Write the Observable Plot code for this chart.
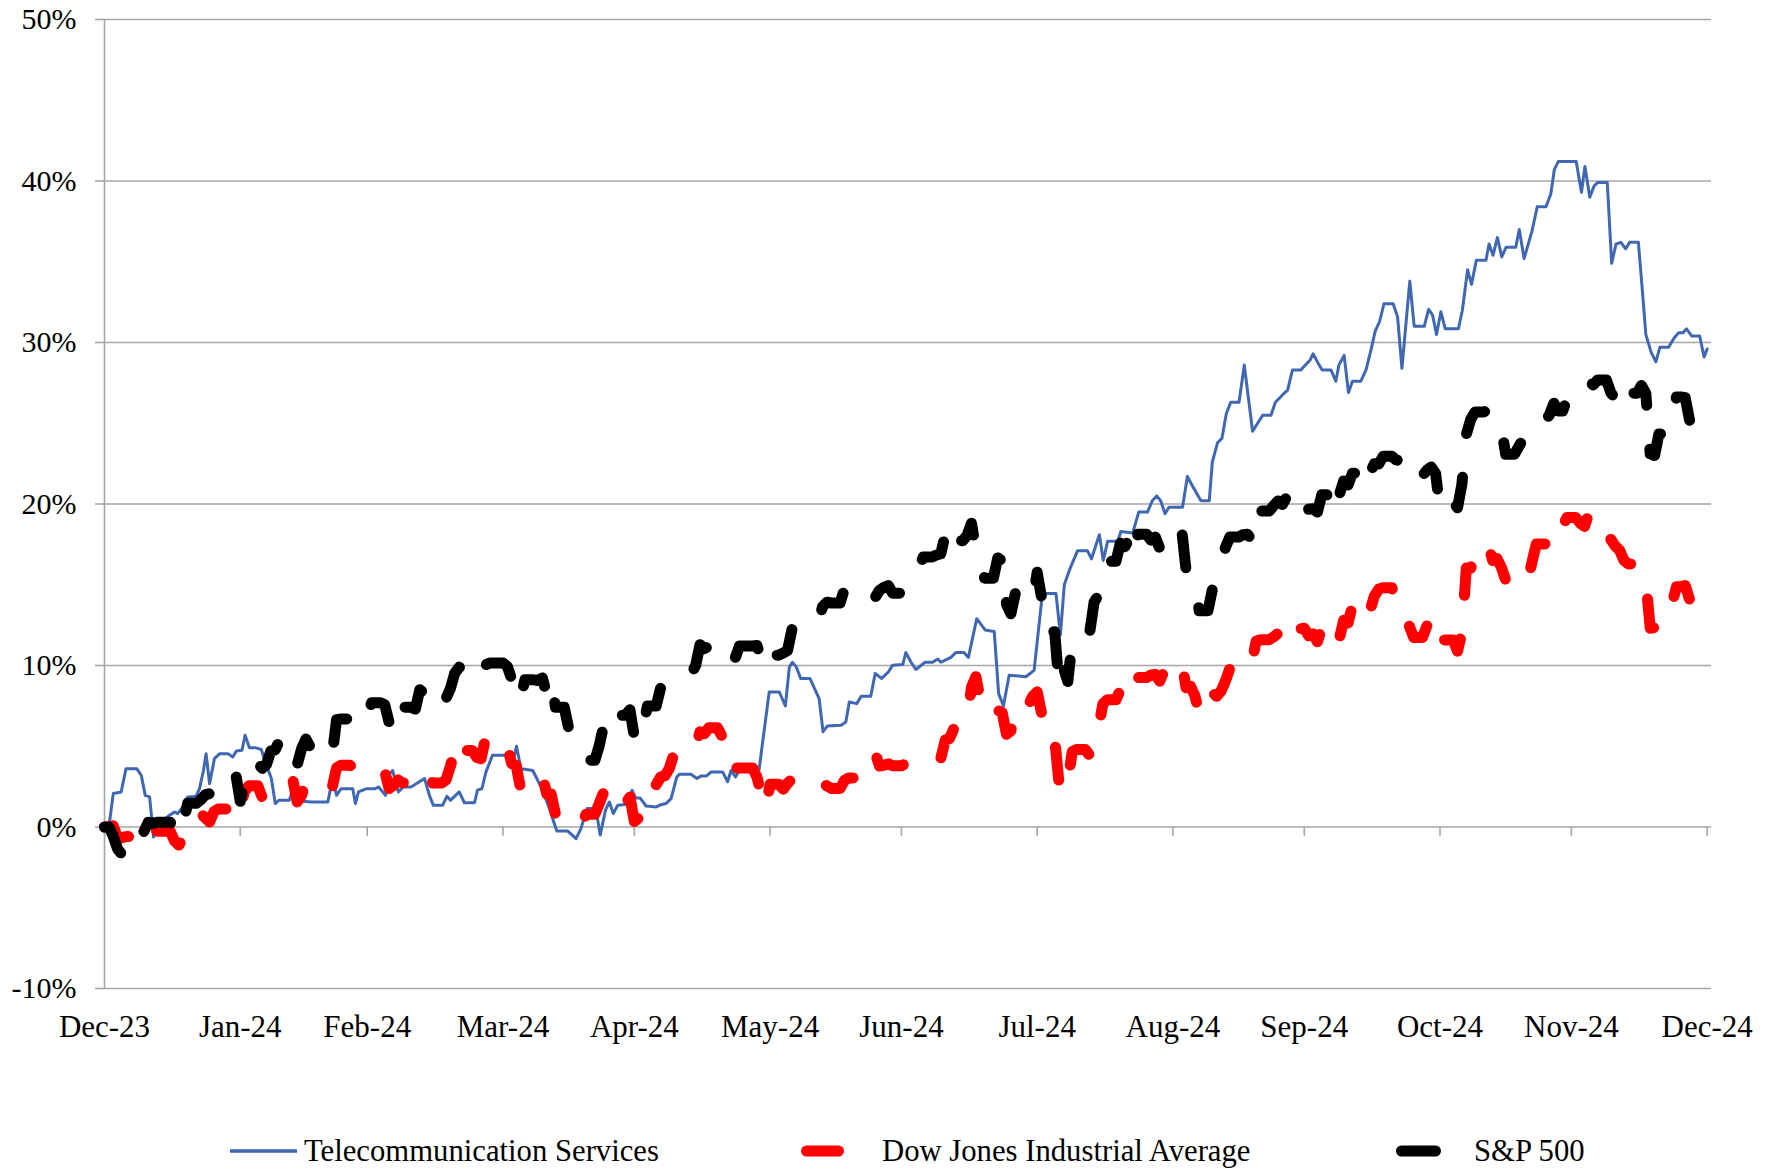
<!DOCTYPE html>
<html><head><meta charset="utf-8">
<script src="https://cdn.jsdelivr.net/npm/d3@7"></script>
<script src="https://cdn.jsdelivr.net/npm/@observablehq/plot@0.6"></script>
<style>
html,body{margin:0;padding:0;background:#fff;}
#wrap{position:relative;width:1777px;height:1169px;font-family:"Liberation Serif","Times New Roman",serif;overflow:hidden;}
#chart{position:absolute;left:0;top:0;}
.leg{position:absolute;top:1131px;font-size:30.7px;line-height:40px;color:#000;white-space:nowrap;}
.sw{position:absolute;top:1131px;}
</style></head><body><div id="wrap"><div id="chart"></div></div>
<script>
// ---------------- data ----------------
const startDate = "2023-12-31";   // day 0 of the daily series
const tickDates = ["2023-12-31","2024-01-31","2024-02-29","2024-03-31","2024-04-30","2024-05-31","2024-06-30","2024-07-31","2024-08-31","2024-09-30","2024-10-31","2024-11-30","2024-12-31"];
const tickLabels = ["Dec-23","Jan-24","Feb-24","Mar-24","Apr-24","May-24","Jun-24","Jul-24","Aug-24","Sep-24","Oct-24","Nov-24","Dec-24"];
const yTicks = [-10, 0, 10, 20, 30, 40, 50];
const seriesNames = ["Telecommunication Services", "Dow Jones Industrial Average", "S&P 500"];
const seriesColors = ["#4068b2", "#ff0000", "#000000"];

// cumulative % change, one value per calendar day from 2023-12-31
const sp500Daily = [0,
0,-0.57,-1.36,-1.70,-1.52,-1.52,-1.52,-0.13,-0.28,0.29,0.22,0.29,0.29,0.29,0.29,-0.08,-0.64,0.23,1.47,1.47,1.47,1.69,1.99,2.07,2.61,2.54,2.54,2.54,3.32,3.25,1.59,
2.86,3.96,3.96,3.96,3.63,3.87,4.72,4.78,5.38,5.38,5.38,5.28,3.84,4.84,5.45,4.94,4.94,4.94,4.94,4.31,4.44,6.65,6.69,6.69,6.69,6.28,6.47,6.29,6.84,
7.70,7.70,7.70,7.57,6.47,7.02,8.12,7.42,7.42,7.42,7.30,8.50,8.29,7.98,7.28,7.28,7.28,7.96,8.57,9.53,9.89,9.74,9.74,9.74,9.40,9.09,10.03,10.16,10.16,10.16,10.16,
9.94,9.14,9.26,7.91,9.11,9.11,9.11,9.07,9.23,8.19,9.00,7.41,7.41,7.41,6.12,5.90,5.29,5.06,4.14,4.14,4.14,5.05,6.30,6.33,5.84,6.92,6.92,6.92,7.26,5.57,
5.21,6.17,7.50,7.50,7.50,8.61,8.76,8.76,9.31,9.49,9.49,9.49,9.47,10.00,11.29,11.05,11.18,11.18,11.18,11.29,11.56,11.26,10.44,11.21,11.21,11.21,11.21,11.24,10.42,9.76,10.64,
10.64,10.64,10.77,10.93,12.25,12.22,12.10,12.10,12.10,12.39,12.69,13.65,13.92,13.87,13.87,13.87,14.75,15.04,15.04,14.75,14.57,14.57,14.57,14.22,14.66,14.84,14.95,14.48,14.48,14.48,
14.79,15.50,16.09,16.09,16.72,16.72,16.72,16.84,16.92,18.12,17.08,17.73,17.73,17.73,18.06,18.81,17.16,16.24,15.41,15.41,15.41,16.66,16.48,13.78,13.20,14.45,14.45,14.45,14.54,13.98,15.78,
14.19,12.09,12.09,12.09,8.73,9.86,9.01,11.52,12.04,12.04,12.04,12.05,13.93,14.37,16.21,16.45,16.45,16.45,17.58,17.35,17.84,16.79,18.13,18.13,18.13,17.76,17.95,17.24,17.24,18.42,18.42,
18.42,18.42,15.92,15.73,15.38,13.39,13.39,13.39,14.70,15.21,16.44,17.31,17.95,17.95,17.95,18.10,18.13,17.79,19.79,19.56,19.56,19.56,19.89,20.19,19.97,20.45,20.30,20.30,20.30,20.81,
19.68,19.70,19.50,20.57,20.57,20.57,19.42,20.57,21.43,21.18,21.91,21.91,21.91,22.85,21.92,22.49,22.47,22.95,22.95,22.95,22.73,22.67,21.54,21.80,21.77,21.77,21.77,22.09,22.29,21.89,19.62,
20.11,20.11,20.11,19.77,21.23,24.30,25.23,25.70,25.70,25.70,25.82,25.45,25.48,24.73,23.08,23.08,23.08,23.56,24.05,24.05,24.72,25.15,25.15,25.15,25.53,26.24,25.76,25.76,26.47,26.47,
26.47,26.78,26.84,27.60,27.37,27.68,27.68,27.68,26.90,26.52,27.56,26.87,26.86,26.86,26.86,27.34,26.85,23.11,23.00,24.34,24.34,24.34,25.25,26.63,26.63,26.58,25.18,25.18,25.18,23.84,23.31];

const dowDaily = [0,
0,0.07,-0.69,-0.66,-0.59,-0.59,-0.59,-0.02,-0.44,0.02,0.06,-0.26,-0.26,-0.26,-0.26,-0.87,-1.12,-0.59,0.46,0.46,0.46,0.83,0.57,0.31,0.95,1.12,1.12,1.12,1.71,2.06,1.22,
2.20,2.56,2.56,2.56,1.83,2.21,2.62,2.75,2.61,2.61,2.61,2.94,1.55,1.95,2.88,2.49,2.49,2.49,2.49,2.32,2.45,3.66,3.83,3.83,3.83,3.66,3.40,3.34,3.47,
3.71,3.71,3.71,3.45,2.38,2.58,2.92,2.74,2.74,2.74,2.87,3.49,3.59,3.23,2.72,2.72,2.72,2.92,3.77,4.84,5.55,4.74,4.74,4.74,4.31,4.23,5.49,5.62,5.62,5.62,5.62,
4.98,3.93,3.82,2.41,3.22,3.22,3.22,3.19,3.17,2.05,2.04,0.78,0.78,0.78,0.12,0.29,0.17,0.23,0.79,0.79,0.79,1.46,2.16,2.05,1.05,1.46,1.46,1.46,1.85,0.34,
0.57,1.42,2.62,2.62,2.62,3.09,3.17,3.63,4.51,4.84,4.84,4.84,4.62,4.96,5.89,5.78,6.14,6.14,6.14,5.62,5.79,5.26,3.65,3.66,3.66,3.66,3.66,3.09,2.00,1.12,2.65,
2.65,2.65,2.34,2.71,2.97,3.18,2.95,2.95,2.95,3.13,2.81,2.71,2.54,2.39,2.39,2.39,2.89,3.04,3.04,3.83,3.88,3.88,3.88,4.57,3.78,3.82,3.91,3.79,3.79,3.79,
3.93,4.36,4.29,4.29,4.47,4.47,4.47,4.39,4.25,5.39,5.48,6.13,6.13,6.13,6.69,8.66,9.31,7.90,6.89,6.89,6.89,7.23,7.08,5.74,5.96,7.69,7.69,7.69,7.56,8.10,8.37,
7.05,5.43,5.43,5.43,2.69,3.47,2.85,4.66,4.80,4.80,4.80,4.42,5.51,6.15,7.62,7.88,7.88,7.88,8.51,8.34,8.49,8.02,9.25,9.25,9.25,9.42,9.45,9.03,9.67,10.28,10.28,
10.28,10.28,8.62,8.72,8.14,7.05,7.05,7.05,8.33,8.09,8.42,9.04,9.83,9.83,9.83,10.43,10.39,10.12,11.50,11.60,11.60,11.60,11.77,11.99,11.21,11.90,12.27,12.27,12.27,12.31,
11.85,11.96,11.47,12.37,12.37,12.37,11.32,11.65,12.80,12.64,13.73,13.73,13.73,14.26,13.40,14.30,14.72,14.82,14.82,14.82,13.91,13.89,12.80,12.43,11.74,11.74,11.74,12.46,12.06,11.81,10.81,
11.58,11.58,11.58,10.89,12.03,16.03,16.03,16.71,16.71,16.71,17.52,16.51,16.63,16.08,15.27,15.27,15.27,15.12,14.80,15.17,16.40,17.53,17.53,17.53,18.70,19.03,18.66,18.66,19.16,19.16,
19.16,18.82,18.61,19.43,18.78,18.45,18.45,18.45,17.81,17.40,17.14,16.52,16.29,16.29,16.29,15.99,15.28,12.30,12.35,13.67,13.67,13.67,13.84,14.88,14.88,14.95,14.07,14.07,14.07,12.96,12.88];

// telecom services: vertices (day offset from startDate, cumulative %)
const telecomDay = [0,1.1,2,3.8,4.9,7.4,8.4,9.3,10.3,11.2,12.4,14.8,16,16.7,17.9,19,20.9,21.7,22.6,23.2,24,25.1,26.3,28.2,29.3,30.1,31.4,32.1,33.1,34.6,35.8,36.9,38.1,39,39.8,42.2,43,43.8,44.5,45.5,47.2,51,52.1,53,54,56.7,57.3,58,59.9,61.8,62.6,64.2,65.1,65.8,67.1,68.2,70,71.2,73.1,74.2,75.1,77.2,78.2,79,81,82.2,84.5,85.2,86.2,87.1,88.6,93.6,94.1,95.1,97.8,99.7,101.2,103.3,105.8,107.7,108.8,110.2,112.2,113.2,114.4,115.3,116.2,117.2,119,120.5,121.3,122.3,123.7,126,127.1,128.2,129.4,130.7,131.3,133.9,135.3,136.2,137.5,138.5,141.2,142.3,143.1,144.1,145.1,149.5,151.8,154.1,155.5,156.4,157.1,158,159,161.1,163.2,164.1,165.1,168.2,169.3,170.1,171.8,172.8,175,176,177.5,179,180,182.3,183,184.2,185.3,187.4,189.1,190.3,191,193.3,194.4,196.3,197.3,199.2,201.1,203.2,204.2,205.3,206.6,210.4,212.3,214.2,217.3,218.3,219.2,220.5,222.2,224.5,225.4,227.2,228.1,229.1,231.4,232.1,234.8,236.2,238.2,239.3,240.3,241.2,242.2,243.1,246.2,247.3,248.5,250.4,252.3,253,254.2,255.2,256.2,257.2,259.1,260.3,262.2,264.5,266.4,267.4,269.2,270.2,271.3,273.2,275.3,276,277.4,278.1,280.1,281.2,281.9,283.1,284.1,285,286.9,288.1,289.2,290.2,291.2,292.2,294.3,295.3,296.3,298.1,299.1,301.4,302.4,303.3,304.2,305.2,306.2,309.2,310.1,311.3,312.2,313.3,315.5,316.2,317.1,318.1,319.1,320.1,322.3,323.1,324.2,326,327.2,329.2,330.3,331.1,332,336.1,337.3,338.1,339.2,340.2,341,343.2,344.2,345.2,346.3,347.4,348.3,350.3,351.1,352,353.2,354.3,355.2,357.2,358.5,359.5,360.5,361.3,362.5,364.3,365.3,366];
const telecomValue = [0,0.2,2.07,2.17,3.6,3.6,3.2,1.96,1.86,-0.62,0.2,0.72,0.93,0.83,1.24,1.86,1.9,2.38,3.5,4.54,2.68,4.23,4.54,4.54,4.34,4.7,4.75,5.68,4.9,4.9,4.8,3.9,3.0,1.45,1.65,1.65,2.27,1.7,2.07,1.6,1.55,1.55,3.0,1.96,2.37,2.37,1.45,2.17,2.37,2.37,2.48,1.96,3.3,3.5,2.17,2.48,2.48,2.68,3.0,1.96,1.34,1.34,1.9,1.65,2.17,1.5,1.5,2.3,2.37,3.4,4.44,4.44,5.0,3.6,3.5,2.48,1.45,-0.25,-0.25,-0.72,-0.1,1.14,1.14,-0.5,1.03,1.55,0.83,1.34,1.4,2.27,1.8,1.8,1.3,1.24,1.38,1.45,1.76,3.1,3.26,3.26,3.0,3.16,3.16,3.4,3.4,2.8,3.5,3.1,3.57,3.57,8.36,8.36,7.5,9.9,10.2,9.9,9.2,9.2,7.95,5.9,6.26,6.3,6.5,7.74,7.64,8.1,8.1,9.5,9.2,9.6,10.02,10.06,10.8,10.2,9.75,10.2,10.2,10.4,10.2,10.5,10.8,10.8,10.5,12.9,12.2,12.1,8.26,7.5,9.4,9.3,9.7,14.46,14.46,11.9,15.0,16.0,17.1,17.1,16.6,18.1,16.5,17.7,17.7,18.3,18.2,19.5,19.5,20.2,20.5,20.2,19.4,19.8,19.8,21.7,21.1,20.2,20.2,22.6,23.8,24.06,25.6,26.3,26.3,28.6,24.5,25.5,25.5,26.3,26.8,27.05,28.3,28.3,28.9,29.3,28.6,28.3,28.3,27.6,28.6,29.2,26.9,27.6,27.6,28.3,29.5,30.7,31.3,32.4,32.4,31.6,28.4,33.8,31.0,31.0,32.05,31.7,30.5,31.9,30.85,30.85,32.0,34.5,33.6,35.1,35.1,36.1,35.4,36.5,35.3,35.9,35.9,37.0,35.2,36.9,38.4,38.4,39.2,40.7,41.2,41.2,39.3,40.9,39.0,39.7,39.9,39.9,34.9,36.1,36.2,35.8,36.2,36.2,33.6,30.5,29.4,28.8,29.7,29.7,30.3,30.6,30.6,30.85,30.4,30.4,29.1,29.6];

// ---------------- build tables ----------------
const t0 = new Date(startDate + "T00:00:00Z");
const DAY = 864e5;
const dayToDate = d => new Date(t0.getTime() + d * DAY);
const telecom = telecomDay.map((d, i) => ({date: dayToDate(d), value: telecomValue[i]}));
const dow = dowDaily.map((v, i) => ({date: dayToDate(i), value: v}));
const sp500 = sp500Daily.map((v, i) => ({date: dayToDate(i), value: v}));
const ticks = tickDates.map(s => new Date(s + "T00:00:00Z"));
const labelOf = new Map(ticks.map((d, i) => [+d, tickLabels[i]]));

const W = 1777, H = 1080;
const gridColor = "#a6a6a6";
const font = '"Liberation Serif","Times New Roman",serif';

const chart = Plot.plot({
  width: W, height: H,
  marginLeft: 104, marginRight: 66, marginTop: 19, marginBottom: H - 988,
  x: {type: "utc", domain: [t0, new Date("2025-01-01T00:00:00Z")]},
  y: {domain: [-10, 50]},
  style: {fontFamily: font, fontSize: "30px", color: "#000", background: "#fff", overflow: "visible"},
  marks: [
    Plot.ruleY(yTicks, {stroke: gridColor, strokeWidth: 1.6}),
    Plot.ruleX([t0], {stroke: gridColor, strokeWidth: 1.6}),
    Plot.ruleX(ticks, {y1: 0, y2: -0.58, stroke: gridColor, strokeWidth: 1.6}),
    Plot.axisY({ticks: yTicks, tickFormat: d => d + "%", tickSize: 9, tickPadding: 19, stroke: gridColor, strokeWidth: 1.6, strokeOpacity: 1, fontSize: 30, label: null}),
    Plot.axisX({ticks: ticks, tickFormat: d => labelOf.get(+d), tickSize: 0, tickPadding: 26, fontSize: 31, label: null}),
    Plot.line(telecom, {x: "date", y: "value", stroke: seriesColors[0], strokeWidth: 3, strokeLinejoin: "round"}),
    Plot.line(dow, {x: "date", y: "value", stroke: seriesColors[1], strokeWidth: 11, strokeDasharray: "33,44", strokeLinecap: "round", strokeLinejoin: "round"}),
    Plot.line(sp500, {x: "date", y: "value", stroke: seriesColors[2], strokeWidth: 11, strokeDasharray: "33,44", strokeLinecap: "round", strokeLinejoin: "round"})
  ]
});
document.getElementById("chart").appendChild(chart);

// ---------------- legend (below the chart) ----------------
const wrap = document.getElementById("wrap");
const legendItems = [
  {name: seriesNames[0], color: seriesColors[0], swX: 230, swW: 67, textX: 304, thick: 3.5, cap: "butt"},
  {name: seriesNames[1], color: seriesColors[1], swX: 801, swW: 43, textX: 882, thick: 11, cap: "round"},
  {name: seriesNames[2], color: seriesColors[2], swX: 1396, swW: 45, textX: 1474, thick: 11, cap: "round"}
];
legendItems.forEach(it => {
  const svg = d3.create("svg").attr("class", "sw").attr("width", it.swW + 2).attr("height", 40)
    .style("left", it.swX - 1 + "px");
  const r = it.cap === "round" ? it.thick / 2 : 0;
  svg.append("line").attr("x1", 1 + r).attr("x2", 1 + it.swW - r).attr("y1", 20).attr("y2", 20)
    .attr("stroke", it.color).attr("stroke-width", it.thick).attr("stroke-linecap", it.cap);
  wrap.appendChild(svg.node());
  const t = document.createElement("div");
  t.className = "leg"; t.style.left = it.textX + "px"; t.textContent = it.name;
  wrap.appendChild(t);
});
</script>
</body></html>
